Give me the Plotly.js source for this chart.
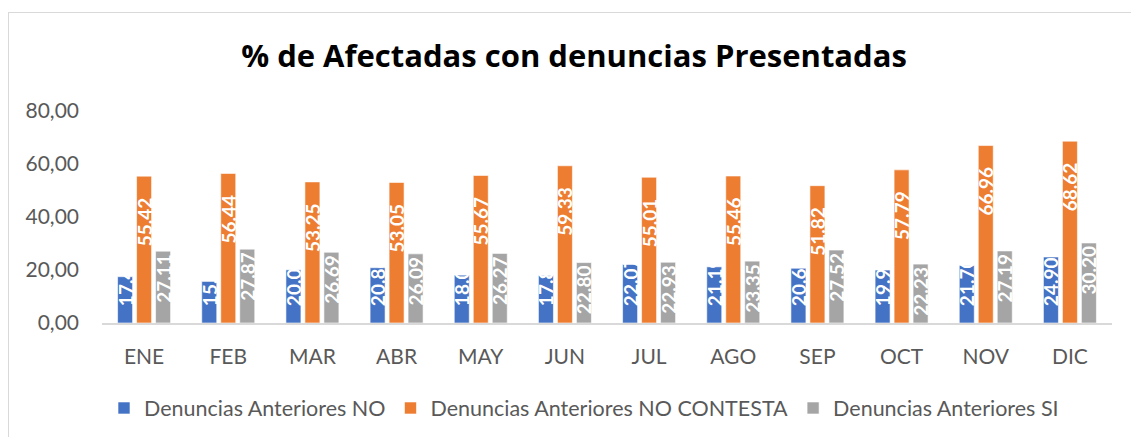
<!DOCTYPE html>
<html>
<head>
<meta charset="utf-8">
<script src="https://cdn.plot.ly/plotly-3.0.1.min.js"></script>
<style>
  html, body { margin: 0; padding: 0; background: #fff; }
  #wrap { position: relative; width: 1131px; height: 437px; overflow: hidden; }
  #chart { position: absolute; left: 0; top: 0; width: 1131px; height: 437px; }
  #frame { position: absolute; left: 8px; top: 12px; width: 1200px; height: 500px;
           border-left: 1px solid #d9d9d9; border-top: 1px solid #d9d9d9; pointer-events: none; }
</style>
</head>
<body>
<div id="wrap"><div id="chart"></div><div id="frame"></div></div>
<script>
const months = ["ENE","FEB","MAR","ABR","MAY","JUN","JUL","AGO","SEP","OCT","NOV","DIC"];
const seriesNames = ["Denuncias Anteriores NO","Denuncias Anteriores NO CONTESTA","Denuncias Anteriores SI"];
const valuesNo = [17.47, 15.69, 20.06, 20.86, 18.06, 17.87, 22.07, 21.19, 20.66, 19.98, 21.70, 24.90];
const valuesNoContesta = [55.42, 56.44, 53.25, 53.05, 55.67, 59.33, 55.01, 55.46, 51.82, 57.79, 66.96, 68.62];
const valuesSi = [27.11, 27.87, 26.69, 26.09, 26.27, 22.80, 22.93, 23.35, 27.52, 22.23, 27.19, 30.20];
const yTicks = [0, 20, 40, 60, 80];

const FONT = "Lato, Carlito, Calibri, sans-serif";
const colors = ["#4472C4", "#ED7D31", "#A5A5A5"];
const allValues = [valuesNo, valuesNoContesta, valuesSi];
const anchors = ["start", "end", "end"];
const NB = "\u00a0";
const pads = [
  v => NB.repeat(3) + v.toFixed(2),
  v => v.toFixed(2) + NB.repeat(4),
  v => v.toFixed(2)
];

const traces = allValues.map((vals, i) => ({
  type: "bar",
  name: seriesNames[i],
  x: months,
  y: vals,
  text: vals.map(pads[i]),
  textposition: "inside",
  insidetextanchor: anchors[i],
  textangle: -90,
  constraintext: "none",
  textfont: { family: FONT, size: 19, color: "#ffffff", weight: "bold" },
  marker: { color: colors[i], line: { color: "#ffffff", width: 0.6 } },
  hoverinfo: "skip"
}));

const layout = {
  width: 1131, height: 437,
  margin: { l: 102, r: 19, t: 111, b: 114 },
  paper_bgcolor: "#ffffff", plot_bgcolor: "#ffffff",
  separators: ",.",
  barmode: "group",
  bargap: 0.323,
  bargroupgap: 0.21,
  showlegend: true,
  title: {
    text: "<b>% de Afectadas con denuncias Presentadas</b>",
    font: { family: "'Open Sans', Lato, sans-serif", size: 31, color: "#000000" },
    x: 574/1131, xanchor: "center", xref: "container",
    y: 1 - 56/437, yanchor: "middle", yref: "container"
  },
  xaxis: {
    type: "category",
    showgrid: false,
    showline: true, linecolor: "#d9d9d9", linewidth: 2,
    ticks: "", ticklabelstandoff: 14,
    tickfont: { family: FONT, size: 21, color: "#595959" },
    fixedrange: true
  },
  yaxis: {
    range: [0, 80],
    tickvals: yTicks,
    tickformat: ".2f",
    showgrid: false, zeroline: false, showline: false,
    ticks: "", ticklabelstandoff: 22,
    tickfont: { family: FONT, size: 21, color: "#595959" },
    fixedrange: true
  },
  legend: {
    orientation: "h",
    x: 584/1131, xanchor: "center", xref: "container",
    y: 1 - 408/437, yanchor: "middle", yref: "container",
    font: { family: FONT, size: 21.5, color: "#595959" },
    itemclick: false, itemdoubleclick: false
  }
};

Plotly.newPlot("chart", traces, layout, { displayModeBar: false, staticPlot: true });
</script>
</body>
</html>
